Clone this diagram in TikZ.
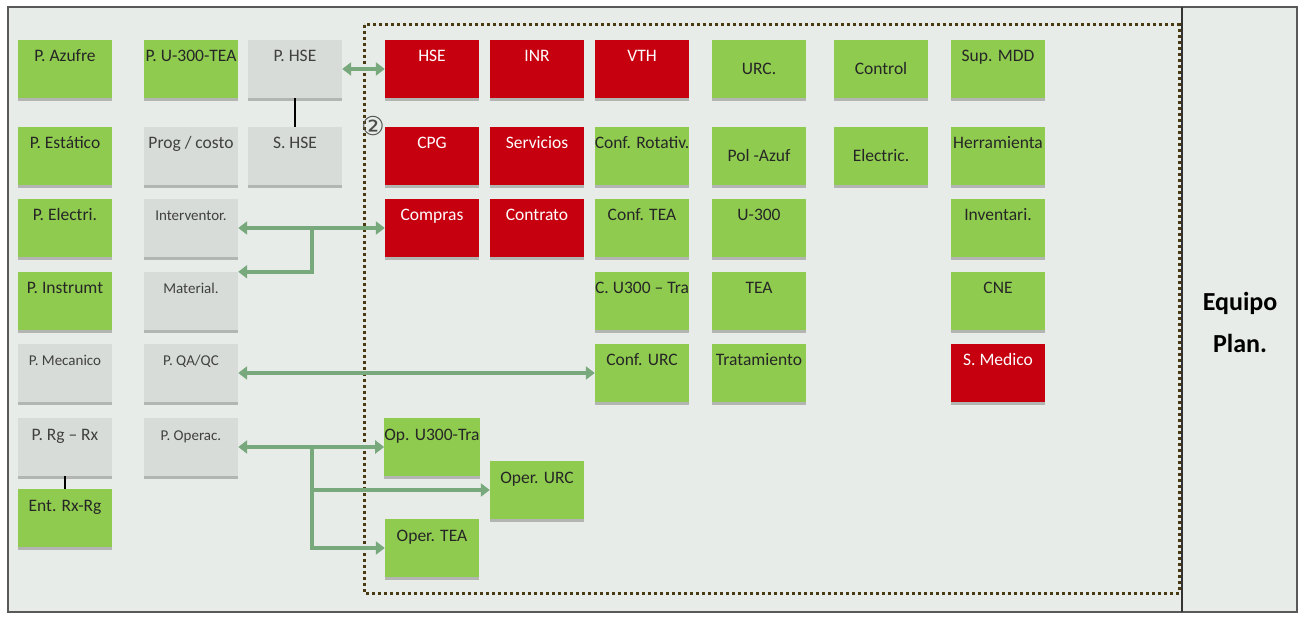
\documentclass[tikz,border=0pt]{standalone}
\usepackage{fontspec}
\setmainfont{Carlito}
\newfontfamily\circfont{DejaVu Sans}
\usetikzlibrary{arrows.meta,shadows}
\definecolor{bgpanel}{HTML}{E7ECE8}
\definecolor{boxgreen}{HTML}{8FCB4F}
\definecolor{boxred}{HTML}{C6000F}
\definecolor{boxgrey}{HTML}{D7DCD8}
\definecolor{linkgreen}{HTML}{78A97C}
\definecolor{dotbrown}{HTML}{4A3A12}

\begin{document}
\begin{tikzpicture}[x=1pt, y=-1pt,
  every node/.style={font=\fontsize{17.5}{19}\selectfont},
  >={Triangle[length=9pt,width=13pt]},
  box/.style={minimum width=94pt, minimum height=58pt, inner sep=0pt,
    text height=22pt, text depth=36pt,
    drop shadow={shadow xshift=0pt, shadow yshift=-3pt, opacity=.5}},
  gbox/.style={box, fill=boxgreen, text=black!85},
  rbox/.style={box, fill=boxred, text=white},
  sbox/.style={box, fill=boxgrey, text=black!75},
  midtext/.style={text height=35pt, text depth=23pt},
  smalltext/.style={font=\fontsize{15}{17}\selectfont},
  link/.style={draw=linkgreen, line width=4pt},
  tie/.style={draw=black, line width=1.5pt}]
  \useasboundingbox (0,0) rectangle (1306,617);
  % panel and frames
  \draw[fill=bgpanel, draw=black!65, line width=2.5pt] (8,7) rectangle (1297,612);
  \draw[black!80, line width=2.5pt] (1182,7) -- (1182,612);
  \draw[dotbrown, line width=3pt, dash pattern=on 3pt off 3pt] (364,25) rectangle (1179,593);
  \node[font=\bfseries\fontsize{26}{42}\selectfont, align=center] (equipo) at (1240,322) {Equipo\\Plan.};
  \node[font=\circfont\fontsize{26}{26}\selectfont, text=black!70] (two) at (373,126) {②};

  % outside the dotted frame
  \node[gbox] (pazufre) at (65,69) {P. Azufre};
  \node[gbox] (pestatico) at (65,156) {P. Estático};
  \node[gbox] (pelectri) at (65,228) {P. Electri.};
  \node[gbox] (pinstrumt) at (65,301) {P. Instrumt};
  \node[sbox, smalltext] (pmecanico) at (65,373) {P. Mecanico};
  \node[sbox] (prgrx) at (65,447) {P. Rg – Rx};
  \node[gbox] (entrxrg) at (65,518) {Ent. Rx-Rg};

  \node[gbox] (pu300tea) at (191,69) {P. U-300-TEA};
  \node[sbox] (progcosto) at (191,156) {Prog / costo};
  \node[sbox, smalltext] (interv) at (191,228) {Interventor.};
  \node[sbox, smalltext] (material) at (191,301) {Material.};
  \node[sbox, smalltext] (pqaqc) at (191,373) {P. QA/QC};
  \node[sbox, smalltext] (poperac) at (191,447) {P. Operac.};

  \node[sbox] (phse) at (295,69) {P. HSE};
  \node[sbox] (shse) at (295,156) {S. HSE};

  % inside the dotted frame
  \node[rbox] (hse) at (432,69) {HSE};
  \node[rbox] (inr) at (537,69) {INR};
  \node[rbox] (vth) at (642,69) {VTH};
  \node[gbox, midtext] (urc) at (759,69) {URC.};
  \node[gbox, midtext] (control) at (881,69) {Control};
  \node[gbox] (supmdd) at (998,69) {Sup. MDD};

  \node[rbox] (cpg) at (432,156) {CPG};
  \node[rbox] (servicios) at (537,156) {Servicios};
  \node[gbox] (confrot) at (642,156) {Conf. Rotativ.};
  \node[gbox, midtext] (polazuf) at (759,156) {Pol -Azuf};
  \node[gbox, midtext] (electric) at (881,156) {Electric.};
  \node[gbox] (herram) at (998,156) {Herramienta};

  \node[rbox] (compras) at (432,228) {Compras};
  \node[rbox] (contrato) at (537,228) {Contrato};
  \node[gbox] (conftea) at (642,228) {Conf. TEA};
  \node[gbox] (u300) at (759,228) {U-300};
  \node[gbox] (inventari) at (998,228) {Inventari.};

  \node[gbox] (cu300tra) at (642,301) {C. U300 – Tra};
  \node[gbox] (tea) at (759,301) {TEA};
  \node[gbox] (cne) at (998,301) {CNE};

  \node[gbox] (confurc) at (642,373) {Conf. URC};
  \node[gbox] (tratam) at (759,373) {Tratamiento};
  \node[rbox] (smedico) at (998,373) {S. Medico};

  \node[gbox] (opu300) at (432,447) {Op. U300-Tra};
  \node[gbox] (operurc) at (537,490) {Oper. URC};
  \node[gbox] (opertea) at (432,548) {Oper. TEA};

  % connectors
  \draw[tie] (phse) -- (shse);
  \draw[tie] (prgrx) -- (entrxrg);
  \draw[link,<->] (phse) -- (hse);
  \draw[link,<->] (interv) -- (compras);
  \coordinate (jint) at (312,228);
  \draw[link,->] (jint) |- (material.north east);
  \draw[link,<->] (pqaqc) -- (confurc);
  \draw[link,<->] (poperac) -- (opu300);
  \coordinate (jop) at (312,447);
  \draw[link,->] (jop) |- (operurc.west);
  \draw[link,->] (jop) |- (opertea.west);
\end{tikzpicture}
\end{document}
